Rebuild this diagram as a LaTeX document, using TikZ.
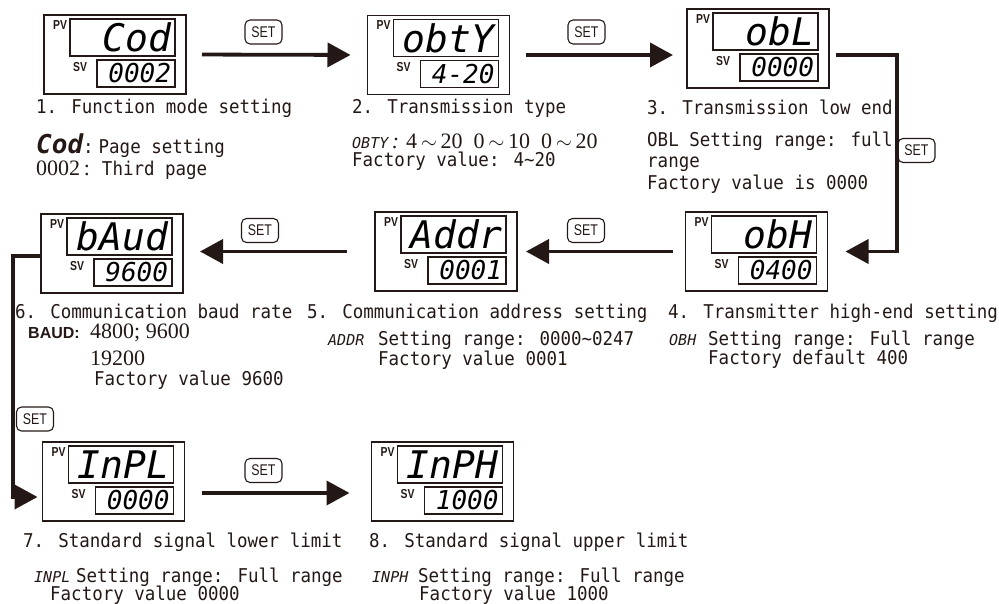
\documentclass[tikz,border=0pt]{standalone}
\usepackage{fontspec}
\usetikzlibrary{arrows.meta}

\definecolor{ink}{RGB}{35,24,21}

\newfontfamily\monofam{DejaVu Sans Mono}
\newfontfamily\narrowfam{DejaVu Sans Mono}[FakeStretch=0.92]
\newfontfamily\seriffam{Liberation Serif}
\newfontfamily\sansfam{Liberation Sans}
\newfontfamily\keyfam{Liberation Sans}[FakeStretch=0.8]

\newcommand\pvtype{\monofam\itshape\fontsize{38}{38}\selectfont}
\newcommand\svtype{\monofam\itshape\fontsize{26}{26}\selectfont}
\newcommand\segsmall{\monofam\itshape\fontsize{15}{15}\selectfont}
\newcommand\segbold{\monofam\bfseries\itshape\fontsize{26}{26}\selectfont}
\newcommand\desctype{\narrowfam\fontsize{19}{21}\selectfont}
\newcommand\numtype{\seriffam\fontsize{22}{22}\selectfont}
\newcommand\baudtype{\sansfam\bfseries\fontsize{16}{16}\selectfont}
\newcommand\tagtype{\keyfam\bfseries\fontsize{13}{13}\selectfont}
\newcommand\keytype{\keyfam\fontsize{15.5}{15.5}\selectfont}
\newcommand\rng[2]{#1\,$\sim$\,#2}

\begin{document}
\begin{tikzpicture}[x=1pt, y=-1pt,
  disp/.style={draw=ink, line width=1.6pt, minimum width=142pt, minimum height=79pt, inner sep=0pt, outer sep=0pt},
  pvbox/.style={draw=ink, line width=1.3pt, minimum height=37pt, text width=97pt, inner xsep=4pt, inner ysep=0pt, outer sep=0pt, align=right, font=\pvtype, anchor=north east},
  svbox/.style={draw=ink, line width=1.3pt, minimum height=27pt, text width=70pt, inner xsep=4pt, inner ysep=0pt, outer sep=0pt, align=right, font=\svtype, anchor=south east},
  tag/.style={text=ink, font=\tagtype, inner sep=0pt},
  setkey/.style={draw=ink, line width=1.1pt, rounded corners=5pt, minimum width=37pt, minimum height=24pt, inner sep=0pt, text=ink, font=\keytype},
  flow/.style={draw=ink, line width=3.8pt, -{Triangle[length=23pt,width=24pt]}},
  desc/.style={anchor=base west, inner sep=0pt, text=ink, font=\desctype}]

\useasboundingbox (0,0) rectangle (999,604);

% displays
\node[disp] (d1) at (115,54.5) {};
\node[pvbox] (d1pv) at ([shift={(-11,4)}]d1.north east) {Cod};
\node[svbox] (d1sv) at ([shift={(-11,-7)}]d1.south east) {0002};
\node[tag] (d1p) at ([shift={(16,10)}]d1.north west) {PV};
\node[tag] (d1s) at ([shift={(36,52)}]d1.north west) {SV};

\node[disp] (d2) at (438.5,55) {};
\node[pvbox] (d2pv) at ([shift={(-11,4)}]d2.north east) {obtY};
\node[svbox] (d2sv) at ([shift={(-11,-7)}]d2.south east) {4-20};
\node[tag] (d2p) at ([shift={(16,10)}]d2.north west) {PV};
\node[tag] (d2s) at ([shift={(36,52)}]d2.north west) {SV};

\node[disp] (d3) at (758,48.5) {};
\node[pvbox] (d3pv) at ([shift={(-11,4)}]d3.north east) {obL};
\node[svbox] (d3sv) at ([shift={(-11,-7)}]d3.south east) {0000};
\node[tag] (d3p) at ([shift={(16,10)}]d3.north west) {PV};
\node[tag] (d3s) at ([shift={(36,52)}]d3.north west) {SV};

\node[disp] (d4) at (756.5,251.5) {};
\node[pvbox] (d4pv) at ([shift={(-11,4)}]d4.north east) {obH};
\node[svbox] (d4sv) at ([shift={(-11,-7)}]d4.south east) {0400};
\node[tag] (d4p) at ([shift={(16,10)}]d4.north west) {PV};
\node[tag] (d4s) at ([shift={(36,52)}]d4.north west) {SV};

\node[disp] (d5) at (446,251.5) {};
\node[pvbox] (d5pv) at ([shift={(-11,4)}]d5.north east) {Addr};
\node[svbox] (d5sv) at ([shift={(-11,-7)}]d5.south east) {0001};
\node[tag] (d5p) at ([shift={(16,10)}]d5.north west) {PV};
\node[tag] (d5s) at ([shift={(36,52)}]d5.north west) {SV};

\node[disp] (d6) at (112,253.5) {};
\node[pvbox] (d6pv) at ([shift={(-11,4)}]d6.north east) {bAud};
\node[svbox] (d6sv) at ([shift={(-11,-7)}]d6.south east) {9600};
\node[tag] (d6p) at ([shift={(16,10)}]d6.north west) {PV};
\node[tag] (d6s) at ([shift={(36,52)}]d6.north west) {SV};

\node[disp] (d7) at (113.5,481.5) {};
\node[pvbox] (d7pv) at ([shift={(-11,4)}]d7.north east) {InPL};
\node[svbox] (d7sv) at ([shift={(-11,-7)}]d7.south east) {0000};
\node[tag] (d7p) at ([shift={(16,10)}]d7.north west) {PV};
\node[tag] (d7s) at ([shift={(36,52)}]d7.north west) {SV};

\node[disp] (d8) at (442.5,481.5) {};
\node[pvbox] (d8pv) at ([shift={(-11,4)}]d8.north east) {InPH};
\node[svbox] (d8sv) at ([shift={(-11,-7)}]d8.south east) {1000};
\node[tag] (d8p) at ([shift={(16,10)}]d8.north west) {PV};
\node[tag] (d8s) at ([shift={(36,52)}]d8.north west) {SV};

% SET keys
\node[setkey] (k12) at (263.5,32) {SET};
\node[setkey] (k23) at (586.5,32) {SET};
\node[setkey] (k34) at (916.5,150.5) {SET};
\node[setkey] (k45) at (586,230.5) {SET};
\node[setkey] (k56) at (260,230.5) {SET};
\node[setkey] (k67) at (35,419) {SET};
\node[setkey] (k78) at (263.5,470.5) {SET};

% flow
\draw[flow, shorten <=16pt, shorten >=17pt] (d1.east) -- (d2.west);
\draw[flow, shorten <=16pt, shorten >=14pt] (d2.east) -- (d2.east -| d3.west);
\draw[flow, shorten <=7pt, shorten >=18pt] (d2.east -| d3.east) -- ++(68,0) |- (d4.east);
\draw[flow, shorten <=13pt, shorten >=9pt] (d4.west) -- (d4.west -| d5.east);
\draw[flow, shorten <=28pt, shorten >=17pt] (d5.west) -- (d5.west -| d6.east);
\draw[flow, shorten >=5pt] ([yshift=-2.5pt]d6.west) -- ++(-28,0) |- ([yshift=-15.5pt]d7.west);
\draw[flow, shorten <=17pt, shorten >=22pt] ([yshift=-11.5pt]d7.east) -- ([yshift=-11.5pt]d7.east -| d8.west);

% texts, row 1
\node[desc] (t1) at (36,114) {1. Function mode setting};
\node[desc] (t1a) at (36,154) {{\segbold Cod}:\hspace{5pt}Page setting};
\node[desc] (t1b) at (36,176) {{\numtype 0002\,:}\hspace{12pt}Third page};
\node[desc] (t2) at (352,114) {2. Transmission type};
\node[desc] (t2a) at (352,149) {\makebox[54pt][l]{\segsmall OBTY\numtype\,:}\numtype \rng{4}{20}\enskip\rng{0}{10}\enskip\rng{0}{20}};
\node[desc] (t2b) at (352,167) {Factory value: 4\textasciitilde20};
\node[desc] (t3) at (647,115) {3. Transmission low end};
\node[desc] (t3a) at (647,147) {OBL Setting range: full};
\node[desc] (t3b) at (647,168) {range};
\node[desc] (t3c) at (647,190) {Factory value is 0000};

% texts, row 2
\node[desc] (t6) at (15,318) {6. Communication baud rate};
\node[desc] (t5) at (307,318) {5. Communication address setting};
\node[desc] (t4) at (668,318) {4. Transmitter high-end setting};
\node[desc] (t6a) at (28,338) {\makebox[62pt][l]{\baudtype BAUD:}\numtype 4800; 9600};
\node[desc] (t6b) at (90,365) {\numtype 19200};
\node[desc] (t6c) at (94,385) {Factory value 9600};
\node[desc] (t5a) at (328,345) {\makebox[50pt][l]{\segsmall ADDR}Setting range: 0000\textasciitilde0247};
\node[desc] (t5b) at (378,365) {Factory value 0001};
\node[desc] (t4a) at (669,345) {\makebox[39pt][l]{\segsmall OBH}Setting range: Full range};
\node[desc] (t4b) at (708,364) {Factory default 400};

% texts, row 3
\node[desc] (t7) at (23,547) {7. Standard signal lower limit};
\node[desc] (t8) at (369,547) {8. Standard signal upper limit};
\node[desc] (t7a) at (34,582) {\makebox[42pt][l]{\segsmall INPL}Setting range: Full range};
\node[desc] (t7b) at (50,600) {Factory value 0000};
\node[desc] (t8a) at (372,582) {\makebox[46pt][l]{\segsmall INPH}Setting range: Full range};
\node[desc] (t8b) at (419,600) {Factory value 1000};

\end{tikzpicture}
\end{document}
